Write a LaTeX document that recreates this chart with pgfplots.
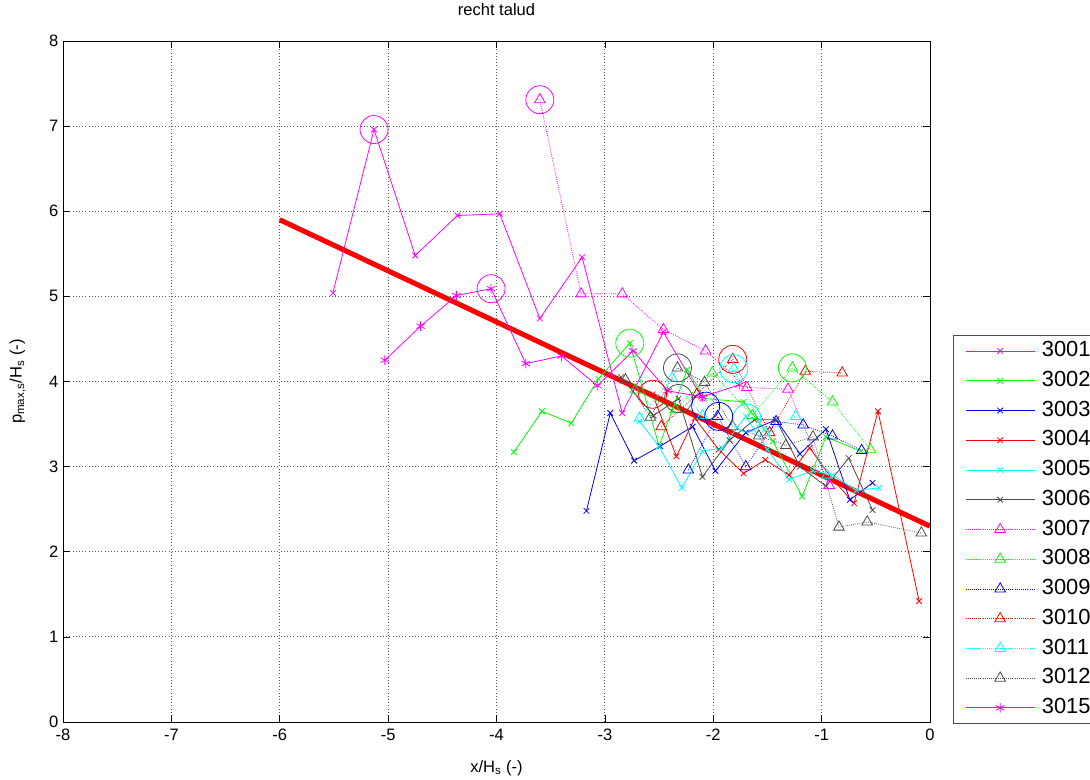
\documentclass[border=0pt]{standalone}
\usepackage{fontspec}
\setmainfont{Liberation Sans}
\usepackage{pgfplots}
\pgfplotsset{compat=1.18}
\usetikzlibrary{calc}
\definecolor{mgray}{rgb}{0.3,0.3,0.3}
\definecolor{mmag}{rgb}{1,0,1}
\definecolor{mgreen}{rgb}{0,1,0}
\definecolor{mblue}{rgb}{0,0,1}
\definecolor{mred}{rgb}{1,0,0}
\definecolor{mcyan}{rgb}{0,1,1}
\begin{document}
\begin{tikzpicture}
\begin{axis}[name=ax, scale only axis, width=650.25pt, height=510.75pt,
  xmin=-8, xmax=0, ymin=0, ymax=8,
  xtick={-8,-7,-6,-5,-4,-3,-2,-1,0}, ytick={0,1,2,3,4,5,6,7,8},
  grid=major, major grid style={dotted, black!65, line width=0.6pt},
  tick align=inside, tick style={black, line width=0.5pt}, major tick length=5pt,
  axis line style={black, line width=0.6pt},
  /pgf/number format/assume math mode=true,
  ticklabel style={font=\fontsize{12.4}{14}\selectfont},
  xticklabel style={yshift=-2pt},
  title={recht talud},
  title style={at={(axis description cs:0.5,1)}, anchor=center, yshift=17.5pt, font=\fontsize{12.4}{14}\selectfont},
  xlabel={x/H\textsubscript{s} (-)},
  xlabel style={at={(axis description cs:0.5,0)}, anchor=center, yshift=-34.5pt, font=\fontsize{12.4}{14}\selectfont},
  legend style={at={(rel axis cs:1.0262,0.5683)}, anchor=north west, draw=black!70, line width=0.6pt,
    font=\fontsize{16.4}{18}\selectfont, inner xsep=9pt, inner ysep=4pt, row sep=6.8pt,
    nodes={inner sep=0pt, text height=12pt, text depth=3.5pt},
    cells={anchor=west}},
  legend image code/.code={\draw[mark repeat=2,mark phase=2,#1] plot coordinates {(0pt,0pt) (26pt,0pt) (52pt,0pt)};
    \path (57pt,0pt);},
  every axis plot/.append style={line width=0.6pt},
]
% fit line
\addplot[mred, line width=3.8pt, forget plot] coordinates {(-6,5.9) (0,2.3)};
% solid series
\addplot[mmag, mark=x, mark size=3pt] coordinates {
(-5.51,5.04) (-5.13,6.96) (-4.75,5.48) (-4.36,5.95) (-3.97,5.97) (-3.60,4.74) (-3.21,5.46) (-2.84,3.63) (-2.46,4.58) (-2.10,3.80)};
\addlegendentry{3001}
\addplot[mgreen, mark=x, mark size=3pt] coordinates {
(-3.84,3.17) (-3.58,3.65) (-3.31,3.51) (-3.06,4.03) (-2.77,4.45) (-2.50,3.24) (-2.24,4.14) (-2.08,3.80) (-1.72,3.76) (-1.45,3.30) (-1.18,2.65) (-0.96,3.35) (-0.64,3.18)};
\addlegendentry{3002}
\addplot[mblue, mark=x, mark size=3pt] coordinates {
(-3.17,2.48) (-2.95,3.63) (-2.73,3.07) (-2.49,3.24) (-2.19,3.47) (-1.98,2.95) (-1.70,3.40) (-1.42,3.55) (-1.20,3.15) (-0.96,3.44) (-0.74,2.61) (-0.53,2.81)};
\addlegendentry{3003}
\addplot[mred, mark=x, mark size=3pt] coordinates {
(-2.56,3.85) (-2.34,3.12) (-2.17,3.57) (-1.95,3.20) (-1.72,2.92) (-1.52,3.08) (-1.30,2.90) (-1.11,3.22) (-0.90,2.85) (-0.70,2.57) (-0.48,3.65) (-0.10,1.42)};
\addlegendentry{3004}
\addplot[mcyan, mark=x, mark size=3pt] coordinates {
(-2.68,3.53) (-2.50,3.24) (-2.29,2.75) (-2.10,3.18) (-1.92,3.22) (-1.70,3.59) (-1.50,3.20) (-1.30,2.85) (-1.08,2.95) (-0.90,2.90) (-0.68,2.72) (-0.47,2.75)};
\addlegendentry{3005}
\addplot[mgray, mark=x, mark size=3pt] coordinates {
(-2.85,4.05) (-2.55,3.60) (-2.32,3.80) (-2.10,2.88) (-1.85,3.31) (-1.62,3.55) (-1.42,3.55) (-1.20,3.00) (-0.96,2.77) (-0.75,3.10) (-0.53,2.49)};
\addlegendentry{3006}
% dotted triangle series
\addplot[mmag, densely dotted, mark=triangle, mark size=4.6pt, mark options={solid}] coordinates {
(-3.60,7.31) (-3.22,5.03) (-2.84,5.03) (-2.46,4.61) (-2.07,4.36) (-1.69,3.93) (-1.31,3.91) (-0.93,2.78)};
\addlegendentry{3007}
\addplot[mgreen, densely dotted, mark=triangle, mark size=4.6pt, mark options={solid}] coordinates {
(-2.72,3.90) (-2.35,3.67) (-2.01,4.10) (-1.64,3.60) (-1.27,4.16) (-0.90,3.76) (-0.55,3.20)};
\addlegendentry{3008}
\addplot[mblue, densely dotted, mark=triangle, mark size=4.6pt, mark options={solid}] coordinates {
(-2.23,2.96) (-1.96,3.59) (-1.70,3.00) (-1.42,3.53) (-1.17,3.49) (-0.90,3.36) (-0.63,3.19)};
\addlegendentry{3009}
\addplot[mred, densely dotted, mark=triangle, mark size=4.6pt, mark options={solid}] coordinates {
(-2.48,3.47) (-2.15,3.85) (-1.82,4.26) (-1.48,3.40) (-1.15,4.12) (-0.81,4.10)};
\addlegendentry{3010}
\addplot[mcyan, densely dotted, mark=triangle, mark size=4.6pt, mark options={solid}] coordinates {
(-2.68,3.57) (-2.38,4.04) (-2.10,3.60) (-1.81,4.15) (-1.52,3.40) (-1.24,3.59) (-0.95,2.90)};
\addlegendentry{3011}
\addplot[mgray, densely dotted, mark=triangle, mark size=4.6pt, mark options={solid}] coordinates {
(-2.81,4.02) (-2.58,3.58) (-2.33,4.16) (-2.08,3.99) (-1.82,3.47) (-1.58,3.36) (-1.33,3.25) (-1.08,3.35) (-0.84,2.29) (-0.58,2.35) (-0.08,2.22)};
\addlegendentry{3012}
\addplot[mmag, mark=asterisk, mark size=3.6pt] coordinates {
(-5.03,4.25) (-4.70,4.65) (-4.37,5.01) (-4.05,5.09) (-3.73,4.21) (-3.40,4.30) (-3.07,3.95) (-2.74,4.36) (-2.42,3.89) (-2.10,3.82) (-1.76,3.96)};
\addlegendentry{3015}
% maximum circles
\addplot[mmag, only marks, mark=o, mark size=10.5pt, forget plot] coordinates {(-5.13,6.96) (-3.60,7.31) (-4.05,5.09)};
\addplot[mgreen, only marks, mark=o, mark size=10.5pt, forget plot] coordinates {(-2.77,4.45) (-1.27,4.16)};
\addplot[mgray, only marks, mark=o, mark size=10.5pt, forget plot] coordinates {(-2.33,4.16) (-2.32,3.80)};
\addplot[mred, only marks, mark=o, mark size=10.5pt, forget plot] coordinates {(-1.82,4.26) (-2.56,3.85)};
\addplot[mcyan, only marks, mark=o, mark size=10.5pt, forget plot] coordinates {(-1.81,4.15) (-1.69,3.57)};
\addplot[mblue, only marks, mark=o, mark size=10.5pt, forget plot] coordinates {(-2.07,3.71) (-1.95,3.59)};
\end{axis}
\node[rotate=90, anchor=center, font=\fontsize{12.4}{14}\selectfont] at ($(ax.west)+(-34pt,0pt)$) {p\textsubscript{max,s}/H\textsubscript{s} (-)};
\pgfresetboundingbox
\path[use as bounding box] ($(ax.south west)+(-47.25pt,-43.5pt)$) rectangle ($(ax.north west)+(770.25pt,30.75pt)$);
\end{tikzpicture}
\end{document}
